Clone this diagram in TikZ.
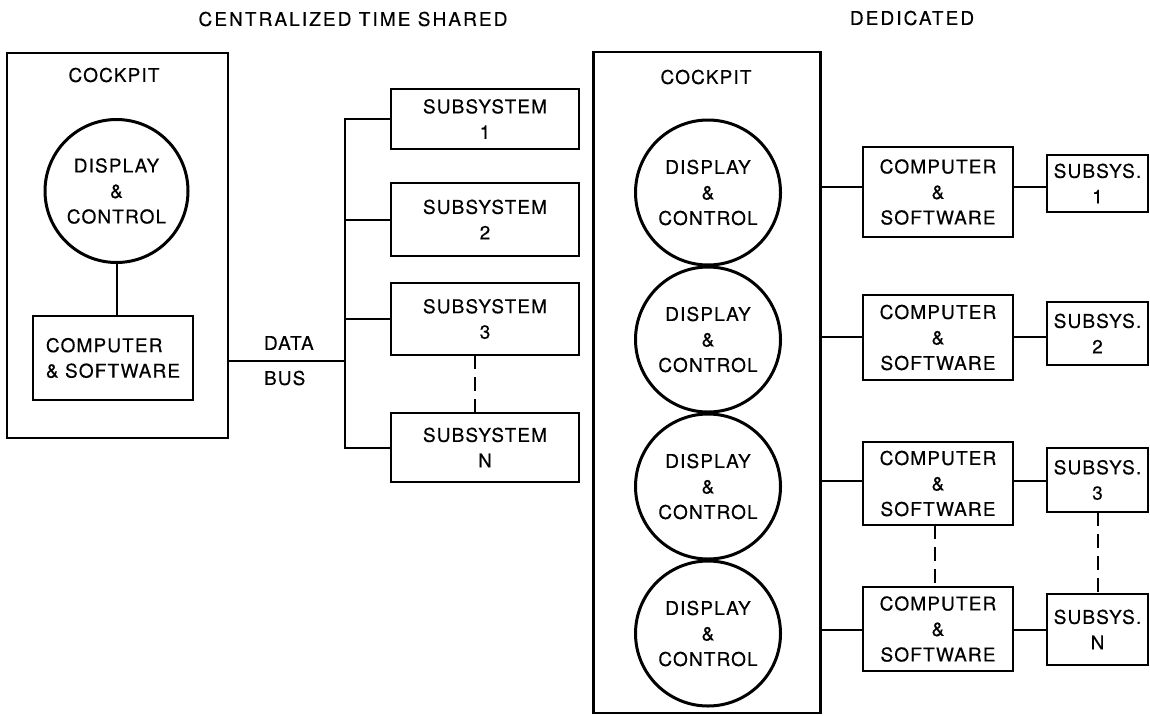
\documentclass[tikz,border=0pt]{standalone}
\usepackage{fontspec}
\setmainfont{TeX Gyre Heros}
\newfontfamily\lab{TeX Gyre Heros}[LetterSpace=6, FakeBold=0.4]
\newfontfamily\headlab{TeX Gyre Heros}[LetterSpace=11, FakeBold=0.4]
\usetikzlibrary{calc}

\tikzset{
  txt/.style={font=\lab\fontsize{19}{25.5}\selectfont, inner sep=0pt, outer sep=0pt, align=center},
  head/.style={font=\headlab\fontsize{19}{25.5}\selectfont, inner sep=0pt, outer sep=0pt},
  frame/.style={draw, line width=2.3pt, inner sep=0pt, outer sep=0pt},
  blk/.style={draw, line width=2.8pt, inner sep=0pt, outer sep=0pt, txt},
  dc/.style={draw, circle, line width=3pt, inner sep=0pt, outer sep=0pt, minimum size=145pt, txt},
  wire/.style={line width=2pt},
  gap/.style={line width=2pt, dash pattern=on 14pt off 8pt}
}

\begin{document}
\begin{tikzpicture}[x=1pt, y=-1pt]
\useasboundingbox (0,0) rectangle (1150,715);

% ---------------- centralized time shared ----------------
\node[head] (tA) at (353,19) {CENTRALIZED TIME SHARED};

\node[frame, minimum width=221pt, minimum height=385pt] (cpL) at (117.5,245.5) {};
\node[txt] (cpLt) at (114,75) {COCKPIT};
\node[dc, minimum size=143pt] (dL) at (116.5,191) {DISPLAY\\\&\\CONTROL};
\node[blk, minimum width=160pt, minimum height=84pt, align=left] (cL) at (113,358) {COMPUTER\\\& SOFTWARE};
\draw[wire] (dL.south) -- (dL.south |- cL.north);

% data bus and its subsystems
\coordinate (bus) at (345,361);
\node[txt, anchor=west] (dt) at (264,343) {DATA};
\node[txt, anchor=west] (bs) at (264,378) {BUS};

\node[blk, minimum width=188pt, minimum height=60pt] (s1) at (485,119)   {SUBSYSTEM\\1};
\node[blk, minimum width=188pt, minimum height=73pt] (s2) at (485,219.5) {SUBSYSTEM\\2};
\node[blk, minimum width=188pt, minimum height=72pt] (s3) at (485,319)   {SUBSYSTEM\\3};
\node[blk, minimum width=188pt, minimum height=69pt] (sN) at (485,447.5) {SUBSYSTEM\\N};

\draw[wire] (bus -| cpL.east) -- (bus);
\draw[wire, line join=miter] (s1.west) -| (bus) |- (sN.west);
\draw[wire] (s2.west) -- (s2.west -| bus);
\draw[wire] (s3.west) -- (s3.west -| bus);
\draw[gap] ([xshift=-10pt]s3.south) -- ([xshift=-10pt]sN.north);

% ---------------- dedicated ----------------
\node[head] (tB) at (912,18) {DEDICATED};

\node[frame, minimum width=227pt, minimum height=661pt] (cpR) at (707,382.5) {};
\node[txt] (cpRt) at (706,77) {COCKPIT};

\node[dc] (d1) at (708,192.5) {DISPLAY\\\&\\CONTROL};
\node[dc] (d2) at (708,339.5) {DISPLAY\\\&\\CONTROL};
\node[dc] (d3) at (708,486.5) {DISPLAY\\\&\\CONTROL};
\node[dc] (d4) at (708,633.5) {DISPLAY\\\&\\CONTROL};

\node[blk, minimum width=150pt, minimum height=90pt] (c1) at (938,192)   {COMPUTER\\\&\\SOFTWARE};
\node[blk, minimum width=150pt, minimum height=85pt] (c2) at (938,337.5) {COMPUTER\\\&\\SOFTWARE};
\node[blk, minimum width=150pt, minimum height=83pt] (c3) at (938,483.5) {COMPUTER\\\&\\SOFTWARE};
\node[blk, minimum width=150pt, minimum height=84pt] (c4) at (938,629)   {COMPUTER\\\&\\SOFTWARE};

\node[blk, minimum width=101pt, minimum height=57pt] (u1) at (1097.5,183.5) {SUBSYS.\\1};
\node[blk, minimum width=101pt, minimum height=63pt] (u2) at (1097.5,333.5) {SUBSYS.\\2};
\node[blk, minimum width=101pt, minimum height=64pt] (u3) at (1097.5,480)   {SUBSYS.\\3};
\node[blk, minimum width=101pt, minimum height=71pt] (u4) at (1097.5,629.5) {SUBSYS.\\N};

% heights of the four feeder lines
\coordinate (r1) at (0,187);
\coordinate (r2) at (0,337);
\coordinate (r3) at (0,481);
\coordinate (r4) at (0,630);

\foreach \i in {1,2,3,4} {
  \draw[wire] (r\i -| cpR.east) -- (r\i -| c\i.west);
  \draw[wire] (r\i -| c\i.east) -- (r\i -| u\i.west);
}
\draw[gap] ([xshift=-3pt]c3.south) -- ([xshift=-3pt]c4.north);
\draw[gap] (u3.south) -- (u4.north);
\end{tikzpicture}
\end{document}
